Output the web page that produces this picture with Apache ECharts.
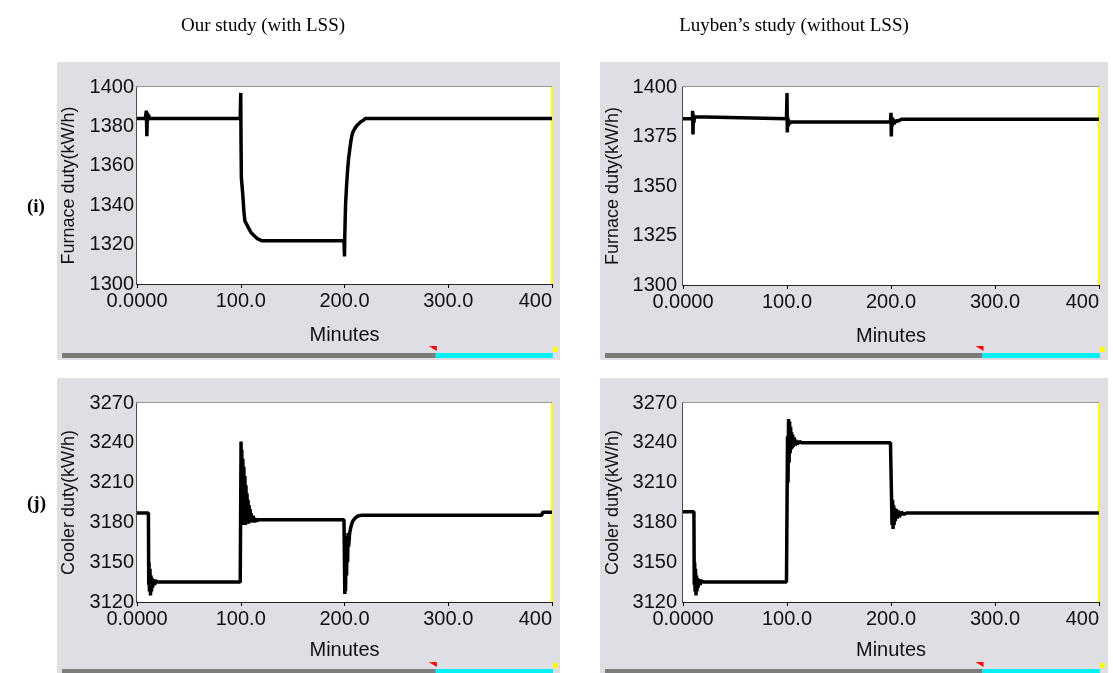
<!DOCTYPE html>
<html><head><meta charset="utf-8">
<script src="https://cdn.jsdelivr.net/npm/echarts@6/dist/echarts.min.js"></script>
<style>html,body{margin:0;padding:0;background:#fff}#c{width:1113px;height:673px}</style>
</head><body><div id="c"></div>
<script>
// ---- data ----
const xTickValues = [0, 100, 200, 300, 400];
const xTickLabels = ['0.0000', '100.0', '200.0', '300.0', '400'];
const panelTitles = ['Our study (with LSS)', "Luyben\u2019s study (without LSS)"];
const rowLabels = ['(i)', '(j)'];
const yNames = ['Furnace duty(kW/h)', 'Cooler duty(kW/h)'];

// Furnace duty, with LSS
const furnaceLssT = [0, 8, 9, 9.5, 10, 10.5, 11, 12, 14, 99.5, 100, 100.3, 100.6, 101, 102, 103, 104, 106, 108, 110, 112, 114, 116, 118, 120, 199.5, 200, 200.3, 201, 202, 203, 204, 205, 206, 207, 208, 210, 212, 214, 216, 218, 220, 222, 400];
const furnaceLssV = [1384, 1384, 1388, 1375, 1387, 1383, 1386, 1384, 1384, 1384, 1397, 1370, 1354, 1353, 1345, 1337, 1332, 1330, 1328, 1326, 1325, 1324, 1323, 1322.5, 1322, 1322, 1314, 1325, 1340, 1350, 1358, 1364, 1368, 1372, 1375, 1377, 1379, 1380.5, 1381.5, 1382.5, 1383, 1384, 1384, 1384];

// Furnace duty, without LSS
const furnaceNoT = [0, 9, 9.3, 9.6, 10, 10.5, 11, 12, 99.5, 100, 100.3, 100.7, 101, 101.5, 102, 103, 104, 199.5, 200, 200.3, 200.7, 201, 202, 203, 205, 207, 210, 400];
const furnaceNoV = [1384, 1384, 1388, 1376, 1386, 1382, 1385, 1384, 1384, 1397, 1377, 1385, 1380, 1383.5, 1381.5, 1382.5, 1382.3, 1382.3, 1387, 1375, 1385, 1380, 1384, 1381.5, 1383, 1382.8, 1383.7, 1383.7];

// Cooler duty, with LSS
const coolerLssT = [0, 11, 11.3, 11.6, 12, 12.5, 13, 13.5, 14, 14.5, 15, 16, 17, 18, 19, 20, 99.5, 100, 100.3, 100.7, 101, 101.5, 102, 102.5, 103, 103.5, 104, 104.5, 105, 105.5, 106, 106.5, 107, 107.5, 108, 108.5, 109, 109.5, 110, 111, 112, 113, 114, 115, 117, 120, 199.5, 200, 200.3, 200.6, 201, 201.5, 202, 202.5, 203, 203.5, 204, 205, 206, 207, 208, 210, 212, 214, 216, 390, 391, 400];
const coolerLssV = [3187, 3187, 3133, 3150, 3128, 3145, 3125, 3140, 3128, 3138, 3131, 3137, 3133, 3136, 3134.5, 3135, 3135, 3135, 3241, 3180, 3235, 3178, 3228, 3178, 3222, 3180, 3215, 3178, 3208, 3180, 3202, 3180, 3197, 3179, 3193, 3180, 3190, 3180, 3187, 3180, 3185, 3180, 3183, 3181, 3182, 3182, 3182, 3182, 3126, 3170, 3128, 3165, 3140, 3170, 3150, 3172, 3162, 3172, 3176, 3179, 3181, 3183, 3184.5, 3185, 3185.3, 3185.3, 3187.6, 3187.6];

// Cooler duty, without LSS
const coolerNoT = [0, 10.5, 10.8, 11.2, 11.6, 12, 12.5, 13, 13.5, 14, 14.5, 15.5, 16.5, 17.5, 19, 20, 99.5, 100, 100.5, 101, 101.5, 102, 102.5, 103, 103.5, 104, 104.5, 105, 105.5, 106, 107, 108, 109, 110, 112, 114, 199.5, 200, 200.5, 201, 201.5, 202, 202.5, 203, 203.5, 204, 205, 206, 207, 208, 210, 212, 215, 400];
const coolerNoV = [3188, 3188, 3133, 3150, 3128, 3145, 3125, 3140, 3128, 3138, 3131, 3137, 3133, 3136, 3134.5, 3135, 3135, 3135, 3245, 3210, 3258, 3225, 3256, 3232, 3252, 3235, 3248, 3236, 3246, 3237, 3244, 3238, 3242, 3239, 3241, 3240, 3240, 3240, 3199, 3178, 3197, 3175, 3193, 3178, 3191, 3181, 3190, 3183, 3189, 3184, 3188, 3186, 3187, 3187];

const furnaceAxis = [{min: 1300, max: 1400, interval: 20}, {min: 1300, max: 1400, interval: 25}];
const coolerAxis = {min: 3120, max: 3270, interval: 30};

// ---- layout ----
const grids = [
  {left: 137, top: 87, width: 415, height: 197},
  {left: 683, top: 87, width: 416, height: 198},
  {left: 137, top: 403, width: 415, height: 199},
  {left: 683, top: 403, width: 416, height: 199}
];
const panels = [
  {x: 57, y: 62, w: 503, h: 298},
  {x: 600, y: 62, w: 508, h: 298},
  {x: 57, y: 378, w: 503, h: 295},
  {x: 600, y: 378, w: 508, h: 295}
];
const zip = (t, v) => t.map((x, i) => [x, v[i]]);
const seriesData = [zip(furnaceLssT, furnaceLssV), zip(furnaceNoT, furnaceNoV), zip(coolerLssT, coolerLssV), zip(coolerNoT, coolerNoV)];
const yRanges = [furnaceAxis[0], furnaceAxis[1], coolerAxis, coolerAxis];
const font = 'Liberation Sans, Arial, sans-serif';
const serif = 'Liberation Serif, Times New Roman, serif';

const option = {
  backgroundColor: '#ffffff',
  animation: false,
  grid: grids.map(g => Object.assign({show: true, backgroundColor: '#ffffff', borderWidth: 0, z: 2}, g)),
  xAxis: grids.map((g, i) => ({
    type: 'value', gridIndex: i, min: 0, max: 400, interval: 100,
    name: 'Minutes', nameLocation: 'middle', nameGap: i < 2 ? 41 : 38,
    nameTextStyle: {fontFamily: font, fontSize: 20, color: '#111'},
    axisLine: {show: true, lineStyle: {color: '#000', width: 1.5}},
    axisTick: {show: true, length: 4, lineStyle: {color: '#000'}},
    axisLabel: {fontFamily: font, fontSize: 20, color: '#111', margin: 7, alignMaxLabel: 'right',
      padding: [0, 0, 0, 0],
      formatter: v => xTickLabels[xTickValues.indexOf(v)]},
    splitLine: {show: true, lineStyle: {color: '#808080', width: 1.5}}
  })),
  yAxis: grids.map((g, i) => ({
    type: 'value', gridIndex: i, min: yRanges[i].min, max: yRanges[i].max, interval: yRanges[i].interval,
    name: yNames[i < 2 ? 0 : 1], nameLocation: 'middle', nameRotate: 90, nameGap: i % 2 ? 61 : 59,
    nameTextStyle: {fontFamily: font, fontSize: 18, color: '#111'},
    axisLine: {show: true, lineStyle: {color: '#333', width: 1.5}},
    axisTick: {show: false},
    axisLabel: {fontFamily: font, fontSize: 20, color: '#111', margin: i % 2 ? 6 : 3,
      formatter: v => String(v)},
    splitLine: {show: true, lineStyle: {color: '#808080', width: 1.5}}
  })),
  series: seriesData.map((d, i) => ({
    type: 'line', xAxisIndex: i, yAxisIndex: i, data: d, showSymbol: false, symbol: 'none',
    lineStyle: {color: '#000', width: 3.5}, z: 5,
    markLine: {silent: true, symbol: 'none', label: {show: false},
      lineStyle: {color: '#ffff00', width: 2, type: 'solid'}, data: [{xAxis: 400}]}
  })),
  title: [
    {text: panelTitles[0], left: 258, top: 12, textAlign: 'center',
      textStyle: {fontFamily: serif, fontSize: 19, fontWeight: 'normal', color: '#000'}},
    {text: panelTitles[1], left: 789, top: 12, textAlign: 'center',
      textStyle: {fontFamily: serif, fontSize: 19, fontWeight: 'normal', color: '#000'}},
    {text: rowLabels[0], left: 22, top: 193,
      textStyle: {fontFamily: serif, fontSize: 19, fontWeight: 'bold', color: '#000'}},
    {text: rowLabels[1], left: 22, top: 490,
      textStyle: {fontFamily: serif, fontSize: 19, fontWeight: 'bold', color: '#000'}}
  ],
  graphic: {elements: [].concat(
    panels.map(p => ({type: 'rect', z: -10, shape: {x: p.x, y: p.y, width: p.w, height: p.h}, style: {fill: '#dedee4'}})),
    panels.map((p, i) => {
      const g = grids[i];
      const by = i < 2 ? 353 : 669;
      const split = g.left + g.width * 0.72;
      return [
        {type: 'rect', z: -5, shape: {x: p.x + 5, y: by, width: split - p.x - 5, height: 5}, style: {fill: '#7c7c7c'}},
        {type: 'rect', z: -5, shape: {x: split, y: by, width: g.left + g.width + 1 - split, height: 5}, style: {fill: '#00f0f8'}},
        {type: 'polygon', z: -5, shape: {points: [[split - 7, by - 7], [split + 1, by - 7], [split + 1, by - 2]]}, style: {fill: '#ff0000'}},
        {type: 'rect', z: -5, shape: {x: g.left + g.width + 1, y: by - 6, width: 5, height: 5}, style: {fill: '#ffff00'}}
      ];
    }).flat()
  )}
};
const chart = echarts.init(document.getElementById('c'), null, {renderer: 'canvas'});
chart.setOption(option);
</script></body></html>
